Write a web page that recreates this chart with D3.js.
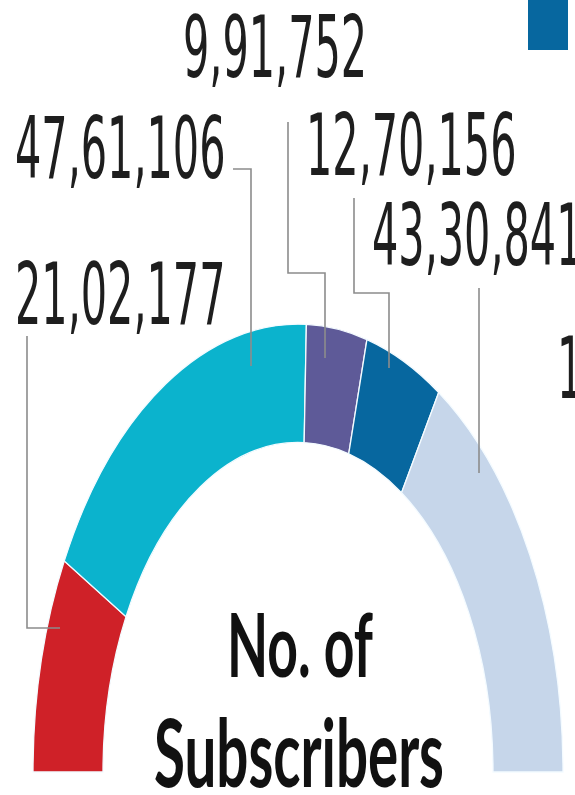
<!DOCTYPE html>
<html>
<head>
<meta charset="utf-8">
<script src="https://cdn.jsdelivr.net/npm/d3@7"></script>
<style>
  body { margin: 0; background: #fff; }
  svg { display: block; }
</style>
</head>
<body>
<div id="chart"></div>
<script>
// subscriber counts, left to right round the half ring
var operators = ["A", "B", "C", "D", "E"];
var subscribers = [2102177, 4761106, 991752, 1270156, 4330841];
var labels = ["21,02,177", "47,61,106", "9,91,752", "12,70,156", "43,30,841"];
var colors = ["#cf2128", "#0bb3cd", "#5e5a98", "#07679f", "#c6d6ea"];

var W = 575, H = 795;
var cx = 298, cy = 772, outerR = 265, innerR = 195, stretch = 1.69;

// where each label text and its leader line sit
var labelPos = [
  { x: 15, y: 324, line: [[27, 336], [27, 628], [60, 628]] },
  { x: 15, y: 178, line: [[233, 169], [251, 169], [251, 366]] },
  { x: 183, y: 77, line: [[288, 122], [288, 273], [325, 273], [325, 358]] },
  { x: 306, y: 175, line: [[354, 198], [354, 293], [389, 293], [389, 368]] },
  { x: 372, y: 265, line: [[479, 288], [479, 473]] }
];

var svg = d3.select("#chart")
  .append("svg")
  .attr("width", W)
  .attr("height", H);

var pie = d3.pie()
  .sort(null)
  .startAngle(-Math.PI / 2)
  .endAngle(Math.PI / 2);

var arc = d3.arc()
  .innerRadius(innerR)
  .outerRadius(outerR);

var ring = svg.append("g")
  .attr("transform", "translate(" + cx + "," + cy + ") scale(1," + stretch + ")");

ring.selectAll("path")
  .data(pie(subscribers))
  .enter()
  .append("path")
  .attr("d", arc)
  .attr("fill", function(d, i) { return colors[i]; })
  .attr("stroke", "#f4fbff")
  .attr("stroke-width", 1.3)
  .attr("vector-effect", "non-scaling-stroke");

// leader lines
var line = d3.line();
svg.selectAll("path.leader")
  .data(labelPos)
  .enter()
  .append("path")
  .attr("class", "leader")
  .attr("d", function(d) { return line(d.line); })
  .attr("fill", "none")
  .attr("stroke", "#8c8c8c")
  .attr("stroke-width", 1.6);

// value labels, tall and narrow like the print
svg.selectAll("text.val")
  .data(labels)
  .enter()
  .append("text")
  .attr("class", "val")
  .attr("transform", function(d, i) {
    return "translate(" + labelPos[i].x + "," + labelPos[i].y + ") scale(1,1.85)";
  })
  .attr("font-family", "'DejaVu Sans Condensed', 'DejaVu Sans', sans-serif")
  .attr("font-size", 46)
  .attr("fill", "#1e1e1e")
  .text(function(d) { return d; });

// next label is cut off by the edge of the picture
svg.append("text")
  .attr("transform", "translate(557,398) scale(1,1.85)")
  .attr("font-family", "'DejaVu Sans Condensed', 'DejaVu Sans', sans-serif")
  .attr("font-size", 46)
  .attr("fill", "#1e1e1e")
  .text("1");

// legend swatch, top right
svg.append("rect")
  .attr("x", 528)
  .attr("y", 0)
  .attr("width", 40)
  .attr("height", 50)
  .attr("fill", colors[3]);

// centre title, squeezed to the printed width
function fitText(txt, midX, base, width, cap) {
  var t = svg.append("text")
    .attr("font-family", "Lato, 'Open Sans', sans-serif")
    .attr("font-weight", "bold")
    .attr("font-size", 40)
    .attr("fill", "#111")
    .text(txt);
  var w = t.node().getComputedTextLength();
  var sx = width / w, sy = cap / (0.72 * 40);
  t.attr("transform", "translate(" + (midX - width / 2) + "," + base + ") scale(" + sx + "," + sy + ")");
}
fitText("No. of", 300, 677, 146, 64);
fitText("Subscribers", 299, 787, 290, 67);
</script>
</body>
</html>
